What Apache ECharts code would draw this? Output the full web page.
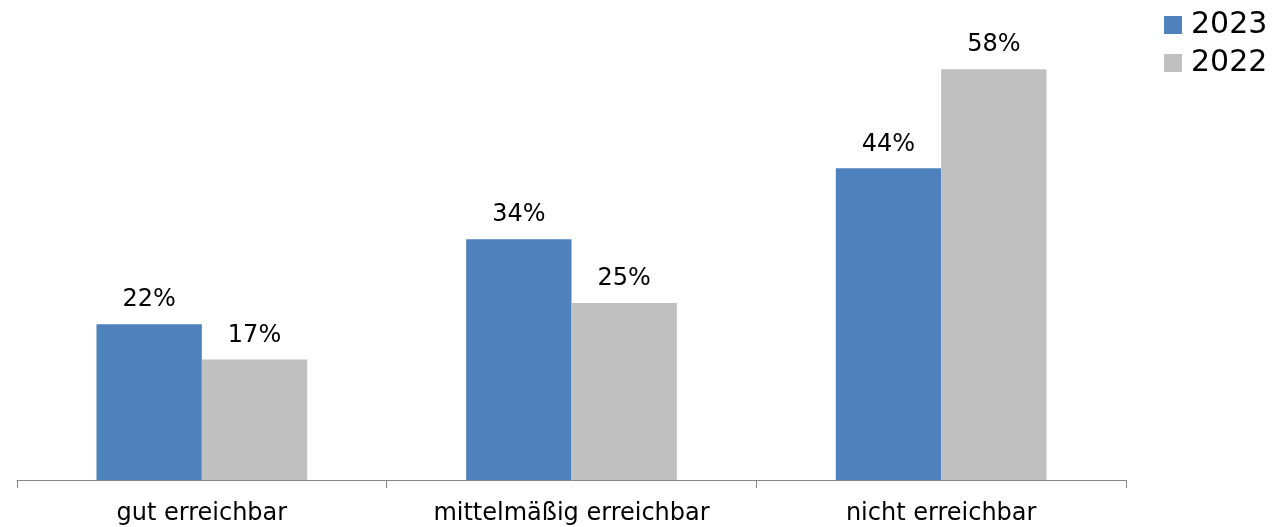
<!DOCTYPE html>
<html><head><meta charset="utf-8">
<script src="https://cdn.jsdelivr.net/npm/echarts@6/dist/echarts.min.js"></script>
<style>html,body{margin:0;padding:0;background:#fff}#c{width:1283px;height:527px}</style>
</head><body><div id="c"></div>
<script>
const categories = ["gut erreichbar", "mittelmäßig erreichbar", "nicht erreichbar"];
const series2023 = [22, 34, 44];
const series2022 = [17, 25, 58];
const seriesNames = ["2023", "2022"];

const chart = echarts.init(document.getElementById('c'), null, {renderer: 'canvas'});
const font = "'DejaVu Sans', Verdana, sans-serif";
const labelCfg = {show: true, position: 'top', distance: 12, formatter: p => p.value + '%', color: '#000', fontSize: 24, fontFamily: font};
chart.setOption({
  animation: false,
  textStyle: {fontFamily: font},
  legend: {
    orient: 'vertical', left: 1159, top: 4, itemWidth: 18, itemHeight: 18, itemGap: 6, icon: 'rect',
    padding: 5,
    textStyle: {fontSize: 30, lineHeight: 32, color: '#000', fontFamily: font, padding: [0,0,0,4]},
    data: seriesNames
  },
  grid: {left: 17, right: 157, top: 55, bottom: 47, containLabel: false},
  xAxis: {
    type: 'category', data: categories,
    axisLine: {lineStyle: {color: '#868686', width: 1}},
    axisTick: {show: true, length: 8, lineStyle: {color: '#868686'}},
    axisLabel: {color: '#000', fontSize: 24, fontFamily: font, margin: 22}
  },
  yAxis: {type: 'value', min: 0, max: 60, show: false, splitLine: {show: false}},
  series: [
    {name: seriesNames[0], type: 'bar', data: series2023, barGap: '0%', barCategoryGap: '43%', itemStyle: {color: '#4F81BD'}, label: labelCfg},
    {name: seriesNames[1], type: 'bar', data: series2022, itemStyle: {color: '#C0C0C0'}, label: labelCfg}
  ]
});
</script></body></html>
